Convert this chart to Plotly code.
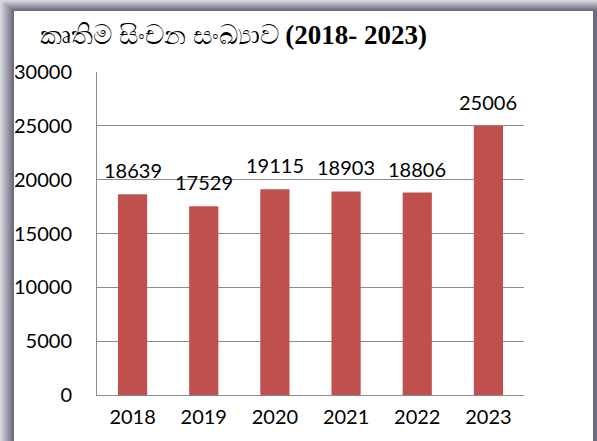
import plotly.graph_objects as go

# chart data
years = ['2018', '2019', '2020', '2021', '2022', '2023']
counts = [18639, 17529, 19115, 18903, 18806, 25006]
y_ticks = [0, 5000, 10000, 15000, 20000, 25000, 30000]

TITLE = 'කෘතිම සිංචන සංඛ්‍යාව <b>(2018- 2023)</b>'
BAR_COLOR = '#C0504D'
FONT = 'Lato, Open Sans, sans-serif'

W, H = 597, 441
L, R, T, B = 97, 73, 72, 46
pw, ph = W - L - R, H - T - B


def px_to_paper_x(px):
    return (px - L) / pw


def px_to_paper_y(py):
    return (H - B - py) / ph


fig = go.Figure()
fig.add_trace(go.Bar(
    x=years, y=counts,
    marker=dict(color=BAR_COLOR, line=dict(width=0)),
    width=0.41,
    hoverinfo='x+y',
))

# value labels sitting a bit above each bar (x given as category index,
# since year-like strings get read as numbers by annotations)
for i, c in enumerate(counts):
    fig.add_annotation(
        x=i, y=c, text=str(c), showarrow=False,
        yanchor='middle', yshift=24,
        font=dict(family=FONT, size=20, color='#000000'),
    )

# grey/purple frame drawn as a soft gradient, then the white card on top
steps = 8
for i in range(steps):
    t = i / (steps - 1)
    r = int(214 + (112 - 214) * t)
    g = int(214 + (106 - 214) * t)
    b = int(220 + (128 - 220) * t)
    fig.add_shape(
        type='rect', xref='paper', yref='paper', layer='below',
        x0=px_to_paper_x(14 * i / steps), x1=px_to_paper_x(597),
        y0=px_to_paper_y(460), y1=px_to_paper_y(11 * i / steps),
        fillcolor=f'rgb({r},{g},{b})', line=dict(width=0),
    )
fig.add_shape(
    type='rect', xref='paper', yref='paper', layer='below',
    x0=px_to_paper_x(14), x1=px_to_paper_x(593),
    y0=px_to_paper_y(460), y1=px_to_paper_y(11),
    fillcolor='white', line=dict(width=0),
)

fig.update_layout(
    width=W, height=H,
    margin=dict(l=L, r=R, t=T, b=B, autoexpand=False),
    paper_bgcolor='#D6D6DC',
    plot_bgcolor='white',
    showlegend=False,
    title=dict(
        text=TITLE, x=40 / W, xanchor='left', y=1 - 35 / H, yanchor='middle',
        font=dict(family='Liberation Serif, Noto Sans, serif', size=27, color='#000000'),
    ),
    font=dict(family=FONT, size=20, color='#000000'),
    bargap=0.59,
)
fig.update_yaxes(
    range=[0, 30000], tickvals=y_ticks, ticktext=[str(v) for v in y_ticks],
    showgrid=True, gridcolor='#8C8C8C', gridwidth=1,
    showline=True, linecolor='#8C8C8C', linewidth=1,
    ticks='', ticklabelstandoff=20, zeroline=False, automargin=False,
    tickfont=dict(size=20),
)
fig.update_xaxes(
    type='category', range=[-0.5, 5.5],
    showline=True, linecolor='#8C8C8C', linewidth=1, automargin=False,
    ticks='', showgrid=False, tickfont=dict(size=20), ticklabelstandoff=4,
)

# drop the default page margin so the figure sits at the window's corner
fig.write_html('out.html', config={'displayModeBar': False},
               post_script="document.body.style.margin='0';")
